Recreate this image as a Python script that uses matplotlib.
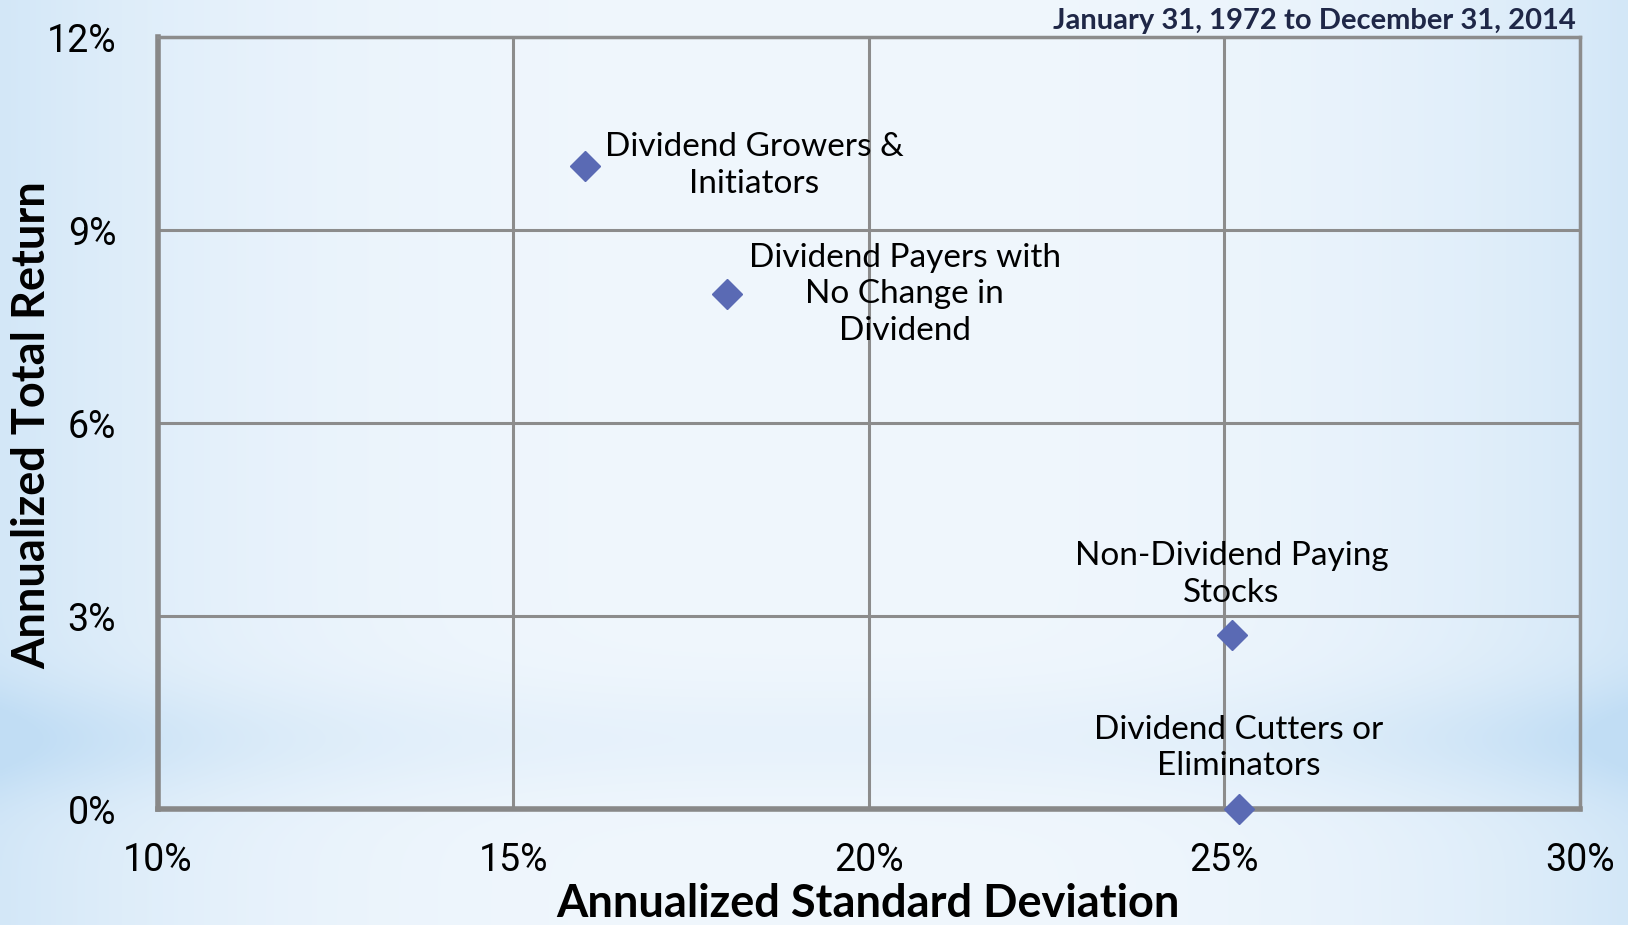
import numpy as np
import matplotlib.pyplot as plt

# ====> data
labels = ['Dividend Growers &\nInitiators',
          'Dividend Payers with\nNo Change in\nDividend',
          'Non-Dividend Paying\nStocks',
          'Dividend Cutters or\nEliminators']
std_dev = [16.0, 18.0, 25.1, 25.2]
total_return = [10.0, 8.0, 2.7, 0.0]
x_ticks = [10, 15, 20, 25, 30]
y_ticks = [0, 3, 6, 9, 12]

# label offsets in points (dx, dy) from each marker
offsets = [(122, 0), (128, 0), (0, 44), (0, 44)]

fig = plt.figure(figsize=(16.28, 9.25), dpi=100)

# ====> background gradient
h, w = 300, 520
yy, xx = np.mgrid[0:1:h*1j, 0:1:w*1j]
edge = np.clip(np.abs(xx - 0.5) * 2, 0, 1) ** 3
band = np.exp(-((yy - 0.80) / 0.06) ** 2) * (0.35 + 0.65 * edge)
amount = np.clip(0.12 + 0.55 * edge + 0.45 * band, 0, 1)
light = np.array([0.965, 0.980, 0.995])
blue = np.array([0.76, 0.87, 0.96])
img = light + (blue - light) * amount[..., None]
bg = fig.add_axes([0, 0, 1, 1], zorder=-1)
bg.imshow(img, aspect='auto', extent=[0, 1, 0, 1], interpolation='bilinear')
bg.axis('off')

# ====> scatter plot
ax = fig.add_axes([0.097, 0.1254, 0.8735, 0.8346])
ax.patch.set_alpha(0)
ax.plot(std_dev, total_return, linestyle='none', marker='D', markersize=15,
        color='#5a6ab4', clip_on=False, zorder=5)

for x, y, lab, (dx, dy) in zip(std_dev, total_return, labels, offsets):
    ax.annotate(lab, (x, y), xytext=(dx, dy), textcoords='offset points',
                ha='center', va='center', fontsize=24, family='Lato',
                linespacing=1.28, zorder=6)

ax.set_xlim(10, 30)
ax.set_ylim(0, 12)
ax.set_xticks(x_ticks)
ax.set_yticks(y_ticks)
ax.set_xticklabels([f'{t}%' for t in x_ticks], family='Roboto', fontsize=27)
ax.set_yticklabels([f'{t}%' for t in y_ticks], family='Roboto', fontsize=27)
ax.tick_params(length=0, pad=24)
ax.tick_params(axis='y', pad=30)
ax.grid(True, color='#8c8c8c', linewidth=2.2)
ax.set_axisbelow(True)
for side in ['top', 'right']:
    ax.spines[side].set_color('#8c8c8c')
    ax.spines[side].set_linewidth(2.5)
for side in ['left', 'bottom']:
    ax.spines[side].set_color('#888888')
    ax.spines[side].set_linewidth(4)

# ====> titles
fig.text(0.533, 0.0, 'Annualized Standard Deviation', ha='center', va='bottom',
         fontsize=32.5, fontweight='bold', family='Lato')
fig.text(0.02, 0.54, 'Annualized Total Return', ha='center', va='center',
         rotation=90, fontsize=32.5, fontweight='bold', family='Lato')
fig.text(0.968, 0.977, 'January 31, 1972 to December 31, 2014', ha='right',
         va='center', fontsize=21, fontweight='bold', family='Lato', color='#1f2747')

plt.savefig('out.png', dpi=100)
plt.close()
